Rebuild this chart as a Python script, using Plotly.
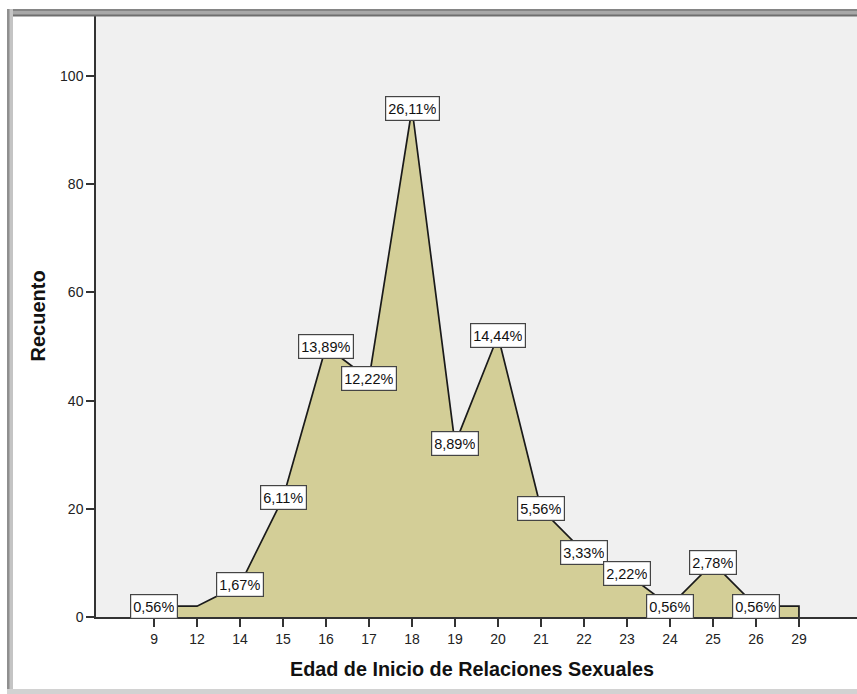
import plotly.graph_objects as go

# ---- data ----
edades = ['9', '12', '14', '15', '16', '17', '18', '19', '20', '21', '22', '23', '24', '25', '26', '29']
recuento = [2, 2, 6, 22, 50, 44, 94, 32, 52, 20, 12, 8, 2, 10, 2, 2]
porcentajes = ['0,56%', None, '1,67%', '6,11%', '13,89%', '12,22%', '26,11%', '8,89%',
               '14,44%', '5,56%', '3,33%', '2,22%', '0,56%', '2,78%', '0,56%', None]
y_ticks = [0, 20, 40, 60, 80, 100]

# ---- layout geometry ----
W, H = 857, 694
L, R, T, B = 96, 0, 16, 77
PW, PH = W - L - R, H - T - B


def px2x(px):
    return (px - L) / PW


def py2y(py):
    return (H - B - py) / PH


FONT = "Liberation Sans, Arial, sans-serif"

fig = go.Figure()

# area with closed vertical edges at both ends
xs = [edades[0]] + edades + [edades[-1]]
ys = [0] + recuento + [0]
fig.add_trace(go.Scatter(
    x=xs, y=ys, mode='lines', fill='tozeroy',
    fillcolor='#d3ce97', line=dict(color='#1a1a1a', width=1.7),
    hoverinfo='skip', showlegend=False))

annotations = []
for i, (v, p) in enumerate(zip(recuento, porcentajes)):
    if p is None:
        continue
    annotations.append(dict(
        x=i, y=v, xref='x', yref='y', text=p, showarrow=False,
        xanchor='center', yanchor='middle', height=19,
        bgcolor='white', bordercolor='#444444', borderwidth=1.2, borderpad=2,
        font=dict(family=FONT, size=14.5, color='#111111')))

# axis titles
annotations.append(dict(
    x=px2x(471.5), y=py2y(669), xref='paper', yref='paper',
    text='<b>Edad de Inicio de Relaciones Sexuales</b>', showarrow=False,
    xanchor='center', yanchor='middle',
    font=dict(family=FONT, size=19.8, color='#111111')))
annotations.append(dict(
    x=px2x(37), y=py2y(316.5), xref='paper', yref='paper',
    text='<b>Recuento</b>', showarrow=False, textangle=-90,
    xanchor='center', yanchor='middle',
    font=dict(family=FONT, size=20, color='#111111')))

# window frame (SPSS viewer border)
shapes = [
    dict(type='rect', xref='paper', yref='paper', x0=px2x(7), x1=px2x(W + 2),
         y0=py2y(16), y1=py2y(9), fillcolor='#a8a8a8', line=dict(width=0), layer='above'),
    dict(type='rect', xref='paper', yref='paper', x0=px2x(7), x1=px2x(W + 2),
         y0=py2y(11), y1=py2y(9), fillcolor='#858585', line=dict(width=0), layer='above'),
    dict(type='rect', xref='paper', yref='paper', x0=px2x(7), x1=px2x(W + 2),
         y0=py2y(16.5), y1=py2y(14.5), fillcolor='#6e6e6e', line=dict(width=0), layer='above'),
    dict(type='rect', xref='paper', yref='paper', x0=px2x(7), x1=px2x(13),
         y0=py2y(H + 2), y1=py2y(9), fillcolor='#c4c4c4', line=dict(width=0), layer='above'),
    dict(type='rect', xref='paper', yref='paper', x0=px2x(7), x1=px2x(9.5),
         y0=py2y(H + 2), y1=py2y(9), fillcolor='#8f8f8f', line=dict(width=0), layer='above'),
    dict(type='rect', xref='paper', yref='paper', x0=px2x(7), x1=px2x(W + 2),
         y0=py2y(H + 2), y1=py2y(689), fillcolor='#d2d2d2', line=dict(width=0), layer='above'),
]

n = len(edades)
fig.update_layout(
    width=W, height=H, autosize=False,
    margin=dict(l=L, r=R, t=T, b=B, pad=0),
    paper_bgcolor='white', plot_bgcolor='#f0f0f0',
    font=dict(family=FONT, size=14, color='#222222'),
    annotations=annotations, shapes=shapes,
    xaxis=dict(type='category', categoryorder='array', categoryarray=edades,
               range=[-1.35, n - 1 + 1.35], showgrid=False, zeroline=False,
               showline=True, linecolor='#333333', linewidth=1.5,
               ticks='outside', ticklen=8, tickwidth=1.5, tickcolor='#333333',
               tickfont=dict(family=FONT, size=14, color='#222222')),
    yaxis=dict(range=[0, 111.1], tickvals=y_ticks, showgrid=False, zeroline=False,
               showline=True, linecolor='#333333', linewidth=1.5,
               ticks='outside', ticklen=8, tickwidth=1.5, tickcolor='#333333',
               tickfont=dict(family=FONT, size=14, color='#222222')),
)

fig.write_html(
    "out.html",
    config={'displayModeBar': False},
    post_script="document.body.style.margin='0px';document.body.style.overflow='hidden';")
